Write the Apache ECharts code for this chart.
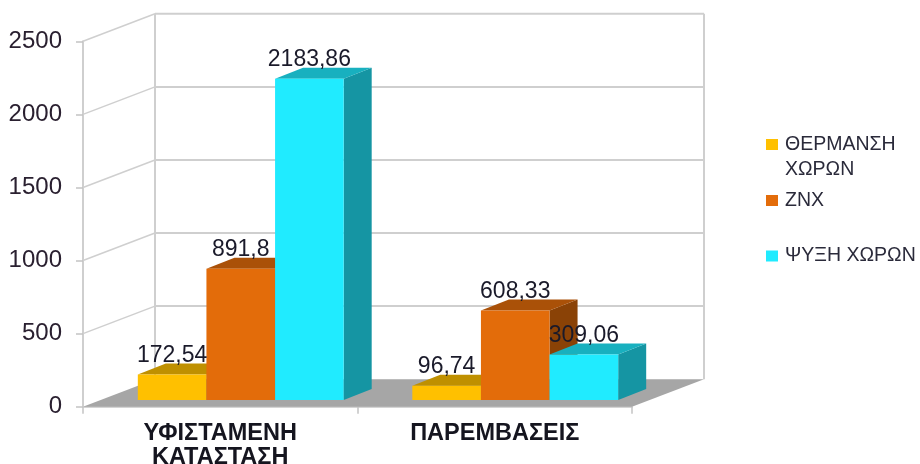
<!DOCTYPE html>
<html><head><meta charset="utf-8">
<script src="https://cdn.jsdelivr.net/npm/echarts@6/dist/echarts.min.js"></script>
<style>html,body{margin:0;padding:0;background:#fff}#c{width:920px;height:464px}</style>
</head><body><div id="c"></div>
<script>
var categories = ['ΥΦΙΣΤΑΜΕΝΗ\nΚΑΤΑΣΤΑΣΗ', 'ΠΑΡΕΜΒΑΣΕΙΣ'];
var heating = [172.54, 96.74];
var dhw = [891.8, 608.33];
var cooling = [2183.86, 309.06];
var yTicks = [0, 500, 1000, 1500, 2000, 2500];
var names = ['ΘΕΡΜΑΝΣΗ ΧΩΡΩΝ', 'ZNX', 'ΨΥΞΗ ΧΩΡΩΝ'];
var labelFmt = {172.54:'172,54', 96.74:'96,74', 891.8:'891,8', 608.33:'608,33', 2183.86:'2183,86', 309.06:'309,06'};

var FONT = '"Liberation Sans", Arial, sans-serif';
var WALL_DX = 72, WALL_DY = 27.5, WALL = '#cfcfcf';
var BAR_DX = 28, BAR_DY = 11, BAR_SHIFT_X = 20.5, BAR_SHIFT_Y = 6.8, BAR_PERSPECTIVE = 1.006;

function wallItem(params, api) {
  var cs = params.coordSys, l = cs.x, r = cs.x + cs.width;
  var tick = api.value(0), y = api.coord([0, tick])[1];
  var ch = [];
  if (tick === 0) {
    ch.push({type:'polygon', shape:{points:[[l, y], [r, y], [r + WALL_DX, y - WALL_DY], [l + WALL_DX, y - WALL_DY]]}, style:{fill:'#a6a6a6'}});
    var top = cs.y;
    ch.push({type:'line', shape:{x1:l + WALL_DX, y1:top - WALL_DY, x2:l + WALL_DX, y2:y - WALL_DY}, style:{stroke:WALL, lineWidth:2}, z2:1});
    ch.push({type:'line', shape:{x1:r + WALL_DX, y1:top - WALL_DY, x2:r + WALL_DX, y2:y - WALL_DY}, style:{stroke:WALL, lineWidth:2}, z2:1});
  } else {
    ch.push({type:'line', shape:{x1:l, y1:y, x2:l + WALL_DX, y2:y - WALL_DY}, style:{stroke:WALL, lineWidth:1.5}});
    ch.push({type:'line', shape:{x1:l + WALL_DX, y1:y - WALL_DY, x2:r + WALL_DX, y2:y - WALL_DY}, style:{stroke:WALL, lineWidth:2}});
  }
  return {type:'group', children:ch};
}

function barRenderer(seriesIndex, front, topC, side) {
  return function (params, api) {
    var i = api.value(0), v = api.value(1);
    var w = api.size([1, 0])[0] / 4;
    var c = api.coord([i, v]), b = api.coord([i, 0]);
    var x0 = c[0] + BAR_SHIFT_X + (seriesIndex - 1.5) * w, x1 = x0 + w;
    var yB = b[1] - BAR_SHIFT_Y, yT = yB - (b[1] - c[1]) * BAR_PERSPECTIVE;
    return {type:'group', children:[
      {type:'polygon', shape:{points:[[x1, yT], [x1 + BAR_DX, yT - BAR_DY], [x1 + BAR_DX, yB - BAR_DY], [x1, yB]]}, style:{fill:side}},
      {type:'polygon', shape:{points:[[x0, yT], [x1, yT], [x1 + BAR_DX, yT - BAR_DY], [x0 + BAR_DX, yT - BAR_DY]]}, style:{fill:topC}},
      {type:'rect', shape:{x:x0, y:yT, width:w, height:yB - yT}, style:{fill:front}},
      {type:'text', z2:100, style:{text:labelFmt[v], x:x0 + w / 2, y:yT - 19, align:'center', verticalAlign:'middle', font:'23px ' + FONT, fill:'#1a1a2a'}}
    ]};
  };
}

function barData(arr) { return arr.map(function (v, i) { return [i, v]; }); }

function barSeries(idx, arr, front, topC, side) {
  return {type:'custom', name:names[idx], data:barData(arr), itemStyle:{color:front},
    encode:{x:0, y:1}, renderItem:barRenderer(idx, front, topC, side), silent:true};
}

var legendText = {fontFamily:FONT, fontSize:19.5, lineHeight:25, color:'#2a2a3a', padding:[0,0,0,2]};
var chart = echarts.init(document.getElementById('c'), null, {renderer:'canvas'});
chart.setOption({
  animation:false,
  backgroundColor:'#fff',
  grid:{left:83, width:549, top:41.3, height:365.4, containLabel:false, outerBoundsMode:'none'},
  xAxis:{type:'category', data:categories,
    axisLine:{lineStyle:{color:'#d4d4d4', width:2}},
    axisTick:{show:true, length:7, lineStyle:{color:'#c4c4c4', width:1.5}},
    axisLabel:{interval:0, margin:15, fontFamily:FONT, fontWeight:'bold', fontSize:23.5, lineHeight:24, color:'#15151f'}},
  yAxis:{type:'value', min:0, max:2500, interval:500,
    axisLine:{show:true, lineStyle:{color:'#cfcfcf', width:2}},
    axisTick:{show:true, length:7, lineStyle:{color:'#c4c4c4', width:1.5}},
    splitLine:{show:false},
    axisLabel:{margin:21, fontFamily:FONT, fontSize:24, color:'#2a2030', formatter:function(v){return String(v);}}},
  legend:[
    {data:[names[0]], left:761, top:102, orient:'vertical', selectedMode:false, icon:'rect', itemWidth:12, itemHeight:11, itemGap:0,
     formatter:function(){return '\nΘΕΡΜΑΝΣΗ\nΧΩΡΩΝ';}, textStyle:legendText},
    {data:[names[1]], left:761, top:183, selectedMode:false, icon:'rect', itemWidth:12, itemHeight:11, textStyle:legendText},
    {data:[names[2]], left:761, top:238.5, selectedMode:false, icon:'rect', itemWidth:12, itemHeight:11, textStyle:legendText}
  ],
  series:[
    {type:'custom', name:'walls', data:yTicks.map(function(t){return [t];}), encode:{y:0}, renderItem:wallItem, silent:true, z:1},
    barSeries(0, heating, '#ffc000', '#bf9000', '#9f7800'),
    barSeries(1, dhw, '#e36c0a', '#aa5108', '#8a4206'),
    barSeries(2, cooling, '#20ebff', '#18b0bf', '#1595a3')
  ]
});
</script></body></html>
